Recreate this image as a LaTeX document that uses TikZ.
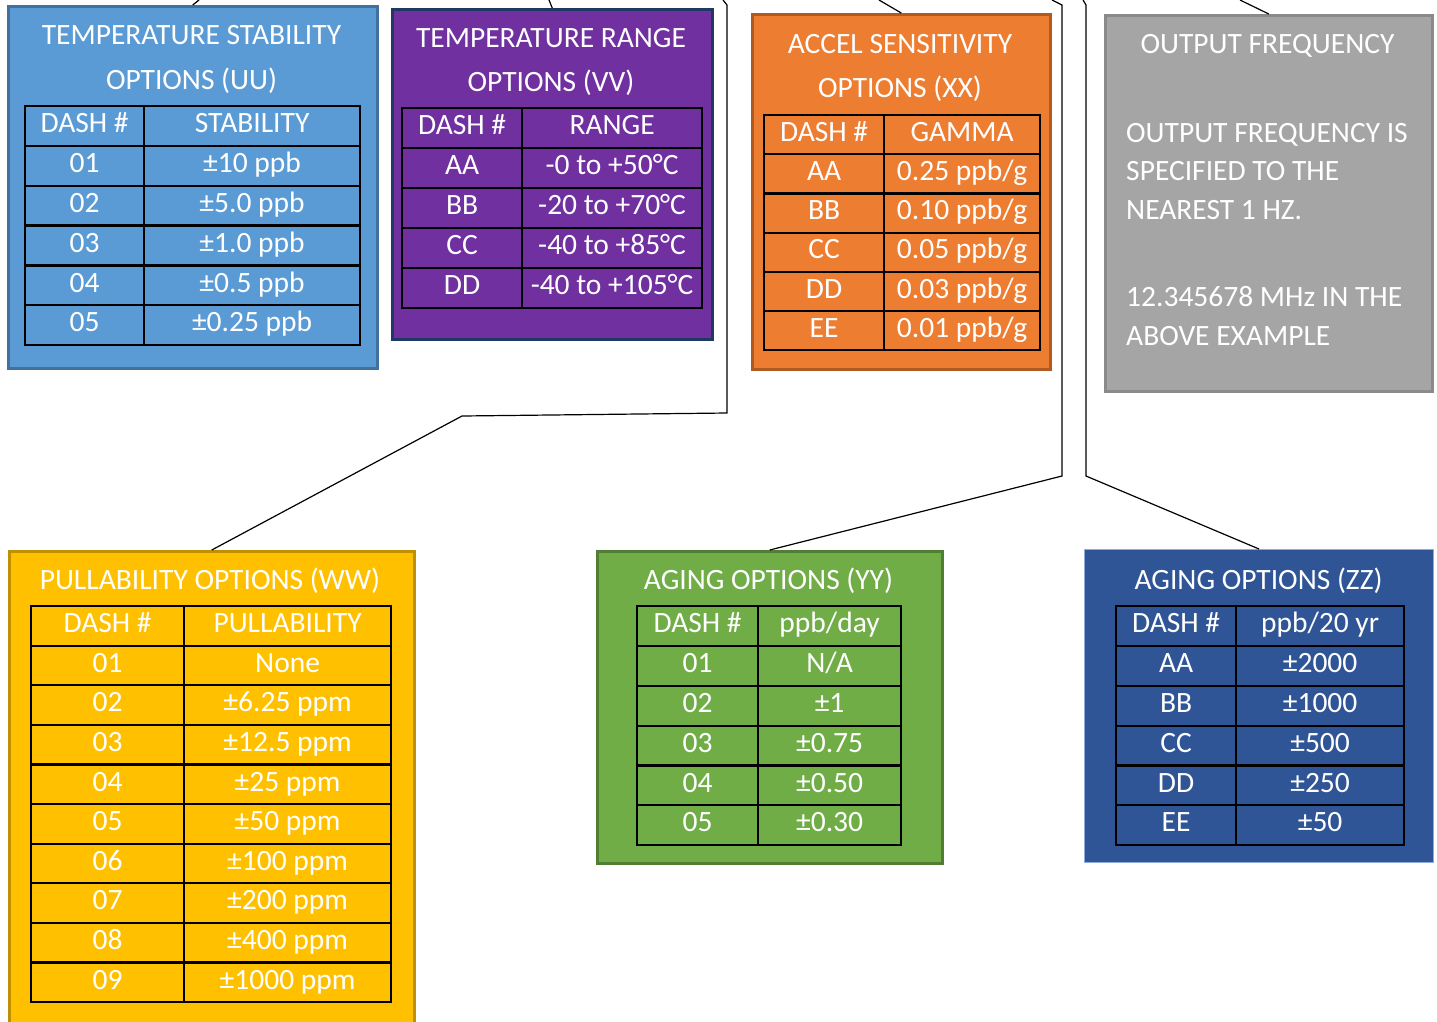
\documentclass[tikz,border=0pt]{standalone}
\usepackage{fontspec}
\setmainfont{Carlito}
\newcommand\cellfont{\fontsize{29.5}{35}\selectfont}
\definecolor{uuF}{HTML}{5B9BD5}\definecolor{uuD}{HTML}{41719C}
\definecolor{vvF}{HTML}{7030A0}\definecolor{vvD}{HTML}{203864}
\definecolor{xxF}{HTML}{ED7D31}\definecolor{xxD}{HTML}{AE5A21}
\definecolor{grF}{HTML}{A5A5A5}\definecolor{grD}{HTML}{8A8A8A}
\definecolor{wwF}{HTML}{FFC000}\definecolor{wwD}{HTML}{BF9000}
\definecolor{yyF}{HTML}{70AD47}\definecolor{yyD}{HTML}{507E32}
\definecolor{zzF}{HTML}{2F5597}\definecolor{zzD}{HTML}{8FAADC}
\tikzset{
  panel/.style={rectangle, anchor=north west, line width=2.5pt, inner sep=0pt},
  cell/.style={rectangle, draw=black, line width=2.2pt, anchor=north west, inner sep=0pt,
    text=white, font=\cellfont, text height=20pt, text depth=6.5pt},
  ttl/.style={text=white, font=\cellfont, inner sep=0pt},
  link/.style={draw=black, line width=1.2pt},
}
% #1 name, #2 x0, #3 xmid, #4 x1, #5 y0, #6 row height, #7 #8 headers, #9 rows
\newcommand\mktab[9]{%
  \pgfmathsetmacro\wa{#3-#2}\pgfmathsetmacro\wb{#4-#3}%
  \node[cell, minimum width=\wa pt, minimum height=#6pt] (#1-h-a) at (#2,#5) {#7};
  \node[cell, minimum width=\wb pt, minimum height=#6pt] (#1-h-b) at (#3,#5) {#8};
  \foreach \a/\b [count=\i] in {#9} {
    \node[cell, minimum width=\wa pt, minimum height=#6pt] (#1-\i-a) at (#2,{#5+\i*#6}) {\a};
    \node[cell, minimum width=\wb pt, minimum height=#6pt] (#1-\i-b) at (#3,{#5+\i*#6}) {\b};
  }%
}
\begin{document}
\begin{tikzpicture}[x=1pt, y=-1pt]
\useasboundingbox (0,0) rectangle (1437,1021);
% panels
\node[panel, fill=uuF, draw=uuD, minimum width=369pt, minimum height=362pt] (uu) at (7,5) {};
\node[panel, fill=vvF, draw=vvD, minimum width=320pt, minimum height=330pt] (vv) at (391,8) {};
\node[panel, fill=xxF, draw=xxD, minimum width=298pt, minimum height=355pt] (xx) at (751,13) {};
\node[panel, fill=grF, draw=grD, minimum width=327pt, minimum height=376pt] (gr) at (1104,14) {};
\node[panel, fill=wwF, draw=wwD, minimum width=405pt, minimum height=480pt] (ww) at (8,550) {};
\node[panel, fill=yyF, draw=yyD, minimum width=345pt, minimum height=312pt] (yy) at (596,550) {};
\node[panel, fill=zzF, draw=zzD, line width=1pt, minimum width=349pt, minimum height=313pt] (zz) at (1084,549) {};
% titles
\node[ttl, anchor=base] (uu-t1) at (191.5,44) {TEMPERATURE STABILITY};
\node[ttl, anchor=base] (uu-t2) at (191.5,89) {OPTIONS (UU)};
\node[ttl, anchor=base] (vv-t1) at (551,47) {TEMPERATURE RANGE};
\node[ttl, anchor=base] (vv-t2) at (551,91) {OPTIONS (VV)};
\node[ttl, anchor=base] (xx-t1) at (900,53) {ACCEL SENSITIVITY};
\node[ttl, anchor=base] (xx-t2) at (900,97) {OPTIONS (XX)};
\node[ttl, anchor=base] (gr-t1) at (1267.5,53) {OUTPUT FREQUENCY};
\node[ttl, anchor=base west] (gr-l1) at (1126,142) {OUTPUT FREQUENCY IS};
\node[ttl, anchor=base west] (gr-l2) at (1126,180) {SPECIFIED TO THE};
\node[ttl, anchor=base west] (gr-l3) at (1126,219) {NEAREST 1 HZ.};
\node[ttl, anchor=base west] (gr-l4) at (1126,306) {12.345678 MHz IN THE};
\node[ttl, anchor=base west] (gr-l5) at (1126,345) {ABOVE EXAMPLE};
\node[ttl, anchor=base] (ww-t1) at (210,589) {PULLABILITY OPTIONS (WW)};
\node[ttl, anchor=base] (yy-t1) at (768.5,589) {AGING OPTIONS (YY)};
\node[ttl, anchor=base] (zz-t1) at (1258.5,589) {AGING OPTIONS (ZZ)};
% tables
\mktab{tuu}{24}{143}{359}{105}{39.83}{DASH \#}{STABILITY}
  {01/{±10 ppb},02/{±5.0 ppb},03/{±1.0 ppb},04/{±0.5 ppb},05/{±0.25 ppb}}
\mktab{tvv}{401}{521}{701}{107}{40}{DASH \#}{RANGE}
  {AA/{-0 to +50°C},BB/{-20 to +70°C},CC/{-40 to +85°C},DD/{-40 to +105°C}}
\mktab{txx}{763}{883}{1039}{114}{39.17}{DASH \#}{GAMMA}
  {AA/{0.25 ppb/g},BB/{0.10 ppb/g},CC/{0.05 ppb/g},DD/{0.03 ppb/g},EE/{0.01 ppb/g}}
\mktab{tww}{30}{183}{390}{605}{39.6}{DASH \#}{PULLABILITY}
  {01/{None},02/{±6.25 ppm},03/{±12.5 ppm},04/{±25 ppm},05/{±50 ppm},06/{±100 ppm},07/{±200 ppm},08/{±400 ppm},09/{±1000 ppm}}
\mktab{tyy}{636}{757}{900}{605}{39.83}{DASH \#}{ppb/day}
  {01/{N/A},02/{±1},03/{±0.75},04/{±0.50},05/{±0.30}}
\mktab{tzz}{1115}{1235}{1403}{605}{39.83}{DASH \#}{ppb/20 yr}
  {AA/{±2000},BB/{±1000},CC/{±500},DD/{±250},EE/{±50}}
% connectors
\coordinate (c-uu) at (199,0);
\coordinate (c-vv) at (549,0);
\coordinate (c-xx) at (879,0);
\coordinate (c-gr) at (1240,0);
\coordinate (c-w0) at (723,0);
\coordinate (c-w1) at (727,5);
\coordinate (c-w2) at (727,413);
\coordinate (c-w3) at (462,416);
\coordinate (c-y0) at (1052,0);
\coordinate (c-y1) at (1062,5);
\coordinate (c-y2) at (1062,476);
\coordinate (c-z0) at (1083,0);
\coordinate (c-z1) at (1086,5);
\coordinate (c-z2) at (1086,476);
\draw[link] (c-uu) -- (uu.north);
\draw[link] (c-vv) -- (vv.north);
\draw[link] (c-xx) -- (xx.north);
\draw[link] (c-gr) -- (gr.north);
\draw[link] (c-w0) -- (c-w1) -- (c-w2) -- (c-w3) -- (ww.north);
\draw[link] (c-y0) -- (c-y1) -- (c-y2) -- (yy.north);
\draw[link] (c-z0) -- (c-z1) -- (c-z2) -- (zz.north);
\end{tikzpicture}
\end{document}
